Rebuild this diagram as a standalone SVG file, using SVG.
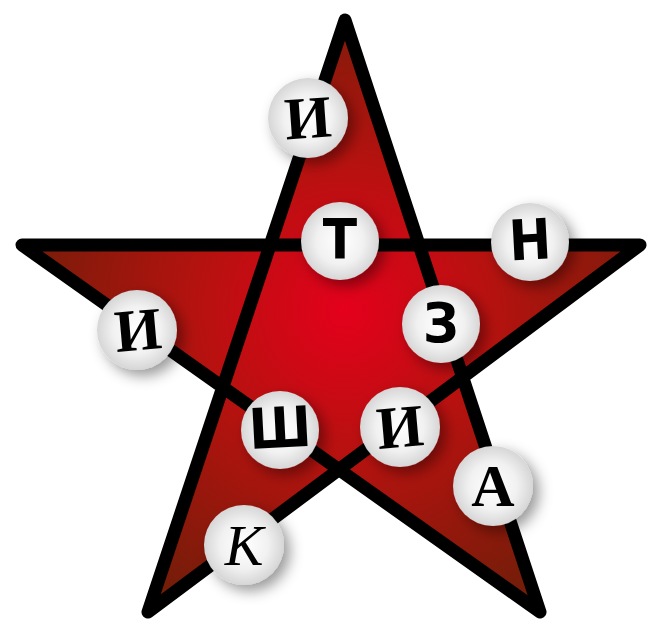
<svg xmlns="http://www.w3.org/2000/svg" width="653" height="627" viewBox="0 0 653 627">
<defs>
<radialGradient id="starFill" gradientUnits="userSpaceOnUse" cx="345" cy="310" r="330">
<stop offset="0" stop-color="#e4001b"/>
<stop offset="0.45" stop-color="#b5120f"/>
<stop offset="1" stop-color="#741d09"/>
</radialGradient>
<radialGradient id="ball" cx="0.5" cy="0.5" r="0.5">
<stop offset="0" stop-color="#ffffff"/>
<stop offset="0.6" stop-color="#f1f1f1"/>
<stop offset="1" stop-color="#d6d6d6"/>
</radialGradient>
<filter id="shadow" x="-50%" y="-50%" width="220%" height="220%">
<feDropShadow dx="6" dy="6" stdDeviation="7" flood-color="#000" flood-opacity="0.4"/>
</filter>
</defs>
<style>
.ball{fill:url(#ball);filter:url(#shadow)}
.lt{fill:#000;text-anchor:middle;dominant-baseline:central}
.slab{font-family:"Liberation Serif","DejaVu Serif",serif;font-weight:bold;font-size:60px}
.sans{font-family:"DejaVu Sans Condensed","DejaVu Sans","Liberation Sans",sans-serif;font-size:56px}
.scr{font-family:"Liberation Serif","DejaVu Serif",serif;font-style:italic;font-size:58px}
</style>
<rect width="653" height="627" fill="#ffffff"/>
<g id="connectors">
<path d="M345,20 L148,612 L640,245 L22,245 L540,612 Z" fill="url(#starFill)" stroke="#000" stroke-width="13" stroke-linejoin="round" fill-rule="nonzero"/>
</g>
<g id="n1"><circle class="ball" cx="308" cy="118" r="40"/><text class="lt slab" x="308" y="118" transform="rotate(-4 308 118)">И</text></g>
<g id="n2"><circle class="ball" cx="340" cy="241" r="39"/><text class="lt sans" x="340" y="238" font-weight="bold">Т</text></g>
<g id="n3"><circle class="ball" cx="530" cy="242" r="39"/><text class="lt sans" x="530" y="240" transform="rotate(-3 530 240)" font-weight="bold">Н</text></g>
<g id="n4"><circle class="ball" cx="137" cy="330" r="40"/><text class="lt slab" x="138" y="330" transform="rotate(-5 138 330)">И</text></g>
<g id="n5"><circle class="ball" cx="441" cy="324" r="39"/><text class="lt sans" x="441" y="322" font-weight="bold">З</text></g>
<g id="n6"><circle class="ball" cx="280" cy="430" r="39"/><text class="lt sans" x="280" y="428" font-weight="bold" transform="rotate(-3 280 428)">Ш</text></g>
<g id="n7"><circle class="ball" cx="400" cy="427" r="40"/><text class="lt slab" x="400" y="427" transform="rotate(-5 400 427)">И</text></g>
<g id="n8"><circle class="ball" cx="493" cy="486" r="40"/><text class="lt slab" x="493" y="486">А</text></g>
<g id="n9"><circle class="ball" cx="244" cy="545" r="40"/><text class="lt scr" x="244" y="545">К</text></g>
</svg>
